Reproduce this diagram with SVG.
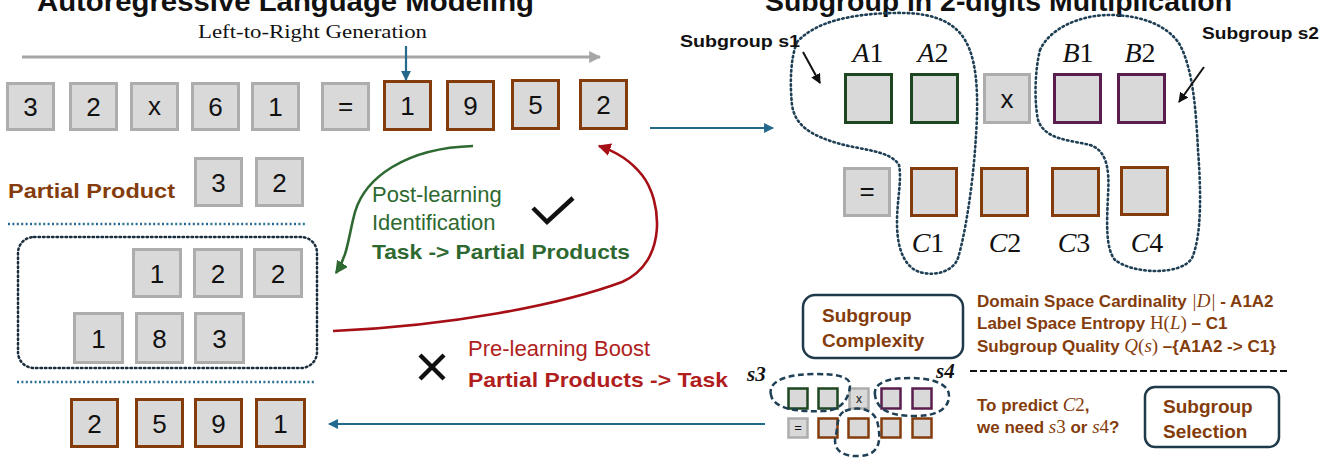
<svg xmlns="http://www.w3.org/2000/svg" width="1320" height="462" viewBox="0 0 1320 462">
<style>
.sans{font-family:"Liberation Sans",Arial,sans-serif}
.serif{font-family:"Liberation Serif","Times New Roman",serif}
.box{fill:#D9D9D9;stroke:#ADADAD;stroke-width:3}
.bbox{fill:#D9D9D9;stroke:#843C0C;stroke-width:3}
.gbox{fill:#D9D9D9;stroke:#1E4620;stroke-width:3}
.pbox{fill:#D9D9D9;stroke:#5A1E4E;stroke-width:3}
.sb{stroke-width:2.5}
.dig{font-family:"Liberation Sans",Arial,sans-serif;font-size:26px;fill:#111;text-anchor:middle}
.brown{fill:#843C0C;font-weight:bold}
.mi{font-family:"Liberation Serif","Times New Roman",serif;font-style:italic;font-weight:normal}
.mr{font-family:"Liberation Serif","Times New Roman",serif;font-style:normal;font-weight:normal}
.lab{font-family:"Liberation Serif","Times New Roman",serif;font-size:28px;fill:#111;text-anchor:middle}
.dots{fill:none;stroke:#1F3F55;stroke-width:2.6;stroke-dasharray:1.5 3.2;stroke-linecap:round}
.dash{fill:none;stroke:#1F3F55;stroke-width:2.5;stroke-dasharray:6 3.5}
.hdots{stroke:#2C6E91;stroke-width:2.6;stroke-dasharray:2 2.4}
.panel{fill:#fff;stroke:#1F3A4A;stroke-width:2.5}
</style>
<defs>
<marker id="ah-blue" viewBox="0 0 10 10" refX="9" refY="5" markerWidth="4.5" markerHeight="4.5" orient="auto"><path d="M0,0 L10,5 L0,10 z" fill="#23698C"/></marker>
<marker id="ah-gray" viewBox="0 0 10 10" refX="9" refY="5" markerWidth="4" markerHeight="4" orient="auto"><path d="M0,0 L10,5 L0,10 z" fill="#A6A6A6"/></marker>
<marker id="ah-green" viewBox="0 0 10 10" refX="9" refY="5" markerWidth="5" markerHeight="5" orient="auto"><path d="M0,0 L10,5 L0,10 z" fill="#2D6930"/></marker>
<marker id="ah-red" viewBox="0 0 10 10" refX="9" refY="5" markerWidth="5" markerHeight="5" orient="auto"><path d="M0,0 L10,5 L0,10 z" fill="#A50F15"/></marker>
<marker id="ah-black" viewBox="0 0 10 10" refX="9" refY="5" markerWidth="5" markerHeight="5" orient="auto"><path d="M0,0 L10,5 L0,10 z" fill="#111"/></marker>
</defs>

<!-- titles -->
<g id="titles" class="sans" font-weight="bold" fill="#111">
<text x="37" y="11" font-size="28" textLength="497" lengthAdjust="spacingAndGlyphs">Autoregressive Language Modeling</text>
<text x="765" y="11" font-size="28" textLength="467" lengthAdjust="spacingAndGlyphs">Subgroup in 2-digits Multiplication</text>
</g>
<text class="serif" x="198" y="38" font-size="19" fill="#111" textLength="229" lengthAdjust="spacingAndGlyphs">Left-to-Right Generation</text>

<!-- row 1 sequence -->
<g id="seq">
<rect class="box" x="7.5" y="83.5" width="46" height="46"/><text class="dig" x="30.5" y="116">3</text>
<rect class="box" x="70.5" y="83.5" width="46" height="46"/><text class="dig" x="93.5" y="116">2</text>
<rect class="box" x="131.5" y="83.5" width="46" height="46"/><text class="dig" x="154.5" y="115" font-size="22">x</text>
<rect class="box" x="192.5" y="83.5" width="46" height="46"/><text class="dig" x="215.5" y="116">6</text>
<rect class="box" x="252.5" y="83.5" width="46" height="46"/><text class="dig" x="275.5" y="116">1</text>
<rect class="box" x="322.5" y="83.5" width="46" height="46"/><text class="dig" x="345.5" y="115" font-size="22">=</text>
<rect class="bbox" x="384.5" y="81.5" width="46" height="48"/><text class="dig" x="407.5" y="115">1</text>
<rect class="bbox" x="447.5" y="81.5" width="46" height="48"/><text class="dig" x="470.5" y="115">9</text>
<rect class="bbox" x="512.5" y="80.5" width="46" height="48"/><text class="dig" x="535.5" y="114">5</text>
<rect class="bbox" x="580.5" y="80.5" width="46" height="48"/><text class="dig" x="603.5" y="114">2</text>
</g>

<!-- partial product -->
<g id="partial-product">
<text class="sans brown" x="8" y="198" font-size="21" textLength="167" lengthAdjust="spacingAndGlyphs">Partial Product</text>
<rect class="box" x="195.5" y="158.5" width="46" height="47"/><text class="dig" x="218.5" y="192">3</text>
<rect class="box" x="256.5" y="158.5" width="46" height="47"/><text class="dig" x="279.5" y="192">2</text>
</g>

<line class="hdots" x1="8" y1="224" x2="306" y2="224"/>
<line class="hdots" x1="17" y1="382" x2="315" y2="382"/>

<!-- partial products box -->
<g id="partials">
<rect x="18" y="237" width="299" height="131" rx="16" fill="none" stroke="#1A2E3E" stroke-width="2.5" stroke-dasharray="1.5 3" stroke-linecap="round"/>
<rect class="box" x="133.5" y="249.5" width="47" height="47"/><text class="dig" x="157" y="283">1</text>
<rect class="box" x="194.5" y="249.5" width="47" height="47"/><text class="dig" x="218" y="283">2</text>
<rect class="box" x="254.5" y="249.5" width="47" height="47"/><text class="dig" x="278" y="283">2</text>
<rect class="box" x="74.5" y="313.5" width="48" height="49"/><text class="dig" x="98.5" y="348">1</text>
<rect class="box" x="136.5" y="313.5" width="46" height="49"/><text class="dig" x="159.5" y="348">8</text>
<rect class="box" x="195.5" y="313.5" width="48" height="49"/><text class="dig" x="219.5" y="348">3</text>
</g>

<!-- result -->
<g id="result">
<rect class="bbox" x="71.5" y="399.5" width="46" height="47"/><text class="dig" x="94.5" y="433">2</text>
<rect class="bbox" x="136.5" y="399.5" width="46" height="47"/><text class="dig" x="159.5" y="433">5</text>
<rect class="bbox" x="195.5" y="399.5" width="46" height="47"/><text class="dig" x="218.5" y="433">9</text>
<rect class="bbox" x="256.5" y="399.5" width="48" height="47"/><text class="dig" x="280.5" y="433">1</text>
</g>

<!-- middle labels -->
<g id="post-learning" class="sans" fill="#2D6930">
<text x="372" y="202" font-size="22">Post-learning</text>
<text x="372" y="230" font-size="22">Identification</text>
<text x="372" y="259" font-size="21" font-weight="bold" textLength="258" lengthAdjust="spacingAndGlyphs">Task -&gt; Partial Products</text>
</g>
<polyline points="533,208 547,222 573,198" fill="none" stroke="#111" stroke-width="4.5"/>
<g id="pre-learning" class="sans" fill="#B01E1E">
<text x="468" y="356" font-size="22">Pre-learning Boost</text>
<text x="468" y="387" font-size="21" font-weight="bold" textLength="260" lengthAdjust="spacingAndGlyphs">Partial Products -&gt; Task</text>
</g>
<g stroke="#111" stroke-width="4.5"><line x1="420" y1="355" x2="444" y2="379"/><line x1="444" y1="355" x2="420" y2="379"/></g>

<!-- right top -->
<g id="subgroup-outlines">
<path class="dots" d="M797,42 C815,22 850,14 893,13 C925,12 952,18 965,40 C980,65 978,110 975,150 C972,190 965,235 958,258 C952,275 925,278 912,268 C900,258 897,240 897,222 C897,200 902,180 899,165 C890,150 860,150 837,143 C810,135 795,125 792,105 C790,85 790,60 797,42 Z"/>
<path class="dots" d="M1040,50 C1050,28 1080,15 1110,15 C1140,15 1168,25 1180,45 C1193,70 1196,110 1198,150 C1201,190 1202,235 1192,258 C1182,275 1135,275 1115,260 C1105,248 1107,220 1108,195 C1110,165 1105,150 1090,145 C1070,140 1045,140 1038,120 C1034,100 1035,70 1040,50 Z"/>
</g>
<g id="mult-grid">
<rect class="gbox" x="845.5" y="74.5" width="46" height="48"/>
<rect class="gbox" x="911.5" y="74.5" width="46" height="48"/>
<rect class="box" x="984.5" y="74.5" width="45" height="48"/><text class="dig" x="1007" y="108" font-size="22">x</text>
<rect class="pbox" x="1054.5" y="74.5" width="46" height="48"/>
<rect class="pbox" x="1118.5" y="74.5" width="46" height="48"/>
<rect class="box" x="844.5" y="168.5" width="45" height="47"/><text class="dig" x="867" y="200" font-size="22">=</text>
<rect class="bbox" x="911.5" y="168.5" width="45" height="47"/>
<rect class="bbox" x="981.5" y="168.5" width="46" height="47"/>
<rect class="bbox" x="1052.5" y="168.5" width="46" height="47"/>
<rect class="bbox" x="1121.5" y="167.5" width="46" height="47"/>
</g>
<g id="grid-labels" class="lab">
<text x="868" y="62"><tspan font-style="italic">A</tspan>1</text>
<text x="933" y="62"><tspan font-style="italic">A</tspan>2</text>
<text x="1078" y="62"><tspan font-style="italic">B</tspan>1</text>
<text x="1140" y="62"><tspan font-style="italic">B</tspan>2</text>
<text x="928" y="252"><tspan font-style="italic">C</tspan>1</text>
<text x="1005" y="252"><tspan font-style="italic">C</tspan>2</text>
<text x="1074" y="252"><tspan font-style="italic">C</tspan>3</text>
<text x="1147" y="252"><tspan font-style="italic">C</tspan>4</text>
</g>
<g id="subgroup-labels" class="sans" font-weight="bold" fill="#111" font-size="17">
<text x="680" y="47" textLength="120" lengthAdjust="spacingAndGlyphs">Subgroup s1</text>
<text x="1202" y="39" textLength="117" lengthAdjust="spacingAndGlyphs">Subgroup s2</text>
</g>

<!-- bottom right -->
<g id="complexity">
<rect class="panel" x="803" y="295" width="160" height="63" rx="12"/>
<text class="sans brown" x="822" y="322" font-size="19">Subgroup</text>
<text class="sans brown" x="822" y="347" font-size="19">Complexity</text>
</g>
<g id="metrics" class="sans brown" font-size="17">
<text x="977" y="307">Domain Space Cardinality <tspan class="mi" font-size="19">|D|</tspan> - A1A2</text>
<text x="977" y="329">Label Space Entropy <tspan class="mr" font-size="19">H(</tspan><tspan class="mi" font-size="19">L</tspan><tspan class="mr" font-size="19">)</tspan> – C1</text>
<text x="977" y="352">Subgroup Quality <tspan class="mi" font-size="19">Q</tspan><tspan class="mr" font-size="19">(</tspan><tspan class="mi" font-size="19">s</tspan><tspan class="mr" font-size="19">)</tspan> –{A1A2 -&gt; C1}</text>
</g>
<line x1="970" y1="371" x2="1290" y2="371" stroke="#111" stroke-width="2" stroke-dasharray="7 3"/>
<g id="question" class="sans brown" font-size="17">
<text x="977" y="411">To predict <tspan class="mi" font-size="19">C</tspan><tspan class="mr" font-size="19">2</tspan>,</text>
<text x="977" y="433">we need <tspan class="mi" font-size="19">s</tspan><tspan class="mr" font-size="19">3</tspan> or <tspan class="mi" font-size="19">s</tspan><tspan class="mr" font-size="19">4</tspan>?</text>
</g>
<g id="selection">
<rect class="panel" x="1145" y="387" width="134" height="60" rx="10"/>
<text class="sans brown" x="1163" y="413" font-size="19">Subgroup</text>
<text class="sans brown" x="1163" y="438" font-size="19">Selection</text>
</g>

<!-- small grid -->
<g id="small-grid">
<rect class="gbox sb" x="788.5" y="388.5" width="19" height="20"/>
<rect class="gbox sb" x="818.5" y="388.5" width="19" height="20"/>
<rect class="box sb" x="849.5" y="388.5" width="19" height="20"/><text class="sans" x="859" y="403" font-size="12" text-anchor="middle" fill="#111">x</text>
<rect class="pbox sb" x="881.5" y="388.5" width="19" height="20"/>
<rect class="pbox sb" x="912.5" y="388.5" width="19" height="20"/>
<rect class="box sb" x="788.5" y="418.5" width="19" height="19"/><text class="sans" x="798" y="432" font-size="13" text-anchor="middle" fill="#111">=</text>
<rect class="bbox sb" x="818.5" y="418.5" width="19" height="19"/>
<rect class="bbox sb" x="848.5" y="418.5" width="20" height="19"/>
<rect class="bbox sb" x="881.5" y="418.5" width="19" height="19"/>
<rect class="bbox sb" x="912.5" y="418.5" width="19" height="19"/>
<path class="dash" d="M771,395 C767,380 790,374 815,374 C835,374 851,376 850,386 C849,398 842,410 825,411 C800,412 774,410 771,395 Z"/>
<path class="dash" d="M875,395 C873,382 890,378 910,378 C935,378 950,385 949,397 C948,410 935,416 915,416 C890,416 877,410 875,395 Z"/>
<path class="dash" d="M845,411 C860,405 876,410 878,425 C881,440 880,455 860,456 C840,457 832,448 836,435 C838,425 837,414 845,411 Z"/>
<text class="serif" x="747" y="381" font-size="21" font-style="italic" font-weight="bold" fill="#111">s3</text>
<text class="serif" x="936" y="378" font-size="21" font-style="italic" font-weight="bold" fill="#111">s4</text>
</g>

<!-- connectors -->
<g id="connectors" fill="none">
<line x1="22" y1="57" x2="600" y2="57" stroke="#A6A6A6" stroke-width="3" marker-end="url(#ah-gray)"/>
<line x1="406" y1="46" x2="406" y2="80" stroke="#23698C" stroke-width="2.2" marker-end="url(#ah-blue)"/>
<line x1="650" y1="128" x2="773" y2="128" stroke="#23698C" stroke-width="2.2" marker-end="url(#ah-blue)"/>
<line x1="765" y1="424" x2="329" y2="424" stroke="#23698C" stroke-width="2.2" marker-end="url(#ah-blue)"/>
<path d="M473,146 C405,148 365,178 355,212 C348,238 348,255 336,273" stroke="#2D6930" stroke-width="2.6" marker-end="url(#ah-green)"/>
<path d="M333,331 C450,326 560,305 622,282 C668,262 662,200 642,175 C630,160 617,152 599,146" stroke="#A50F15" stroke-width="2.6" marker-end="url(#ah-red)"/>
<line x1="803" y1="52" x2="820" y2="83" stroke="#111" stroke-width="2" marker-end="url(#ah-black)"/>
<line x1="1204" y1="67" x2="1179" y2="102" stroke="#111" stroke-width="2" marker-end="url(#ah-black)"/>
</g>
</svg>
